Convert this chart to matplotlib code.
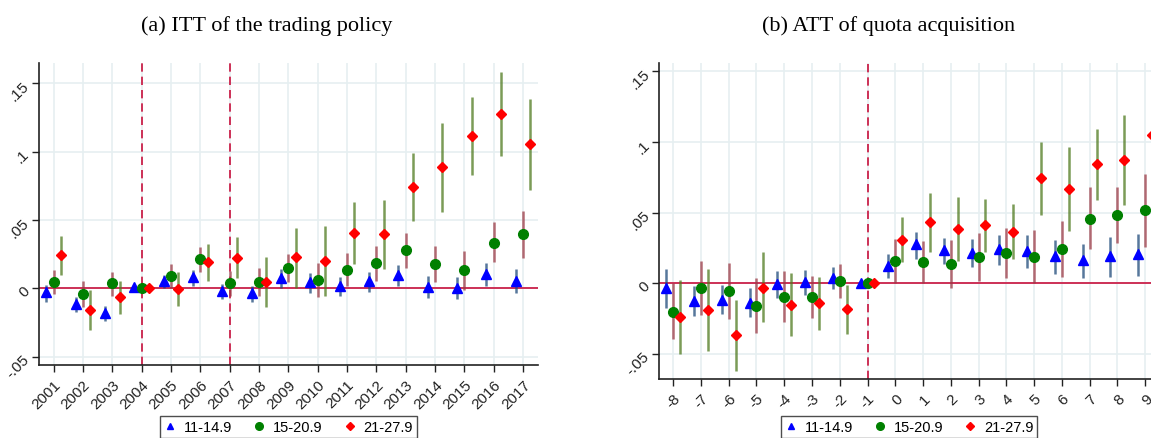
import matplotlib
matplotlib.use("Agg")
import matplotlib.pyplot as plt
from matplotlib.lines import Line2D
import numpy as np

# ---- data: panel (a), ITT by year ----
years = np.arange(2001, 2018)
a_tri = [-0.003, -0.0115, -0.018, 0.0008, 0.0056, 0.008, -0.002, -0.0037, 0.0075, 0.0044,
         0.0019, 0.0056, 0.010, 0.0012, 0.0005, 0.0102, 0.0053]
a_tri_lo = [-0.0098, -0.0171, -0.0237, 0.0008, 0.0, 0.0019, -0.0078, -0.0102, 0.0, -0.0034,
            -0.0058, -0.0025, 0.0015, -0.0073, -0.0078, 0.0015, -0.0037]
a_tri_hi = [0.0024, -0.0061, -0.0132, 0.0008, 0.0097, 0.0134, 0.0031, 0.0019, 0.0141, 0.011,
            0.008, 0.0121, 0.017, 0.0088, 0.008, 0.0185, 0.0141]
a_cir = [0.0048, -0.0044, 0.0037, 0.0, 0.0092, 0.0214, 0.0037, 0.0044, 0.0148, 0.0058,
         0.0136, 0.0183, 0.0278, 0.018, 0.0136, 0.0329, 0.0397]
a_cir_lo = [-0.0042, -0.0139, -0.0054, 0.0, 0.0, 0.0121, -0.0054, -0.0054, 0.0044, -0.0066,
            0.0015, 0.0056, 0.0148, 0.0044, -0.001, 0.019, 0.0221]
a_cir_hi = [0.0136, 0.0051, 0.0121, 0.0, 0.0178, 0.030, 0.0129, 0.0146, 0.025, 0.0183,
            0.0258, 0.0311, 0.0404, 0.0311, 0.0275, 0.0485, 0.0565]
a_dia = [0.0243, -0.0159, -0.0066, 0.0, -0.0005, 0.019, 0.0224, 0.0048, 0.0227, 0.0202,
         0.0404, 0.0395, 0.0741, 0.0884, 0.1116, 0.1274, 0.1053]
a_dia_lo = [0.0099, -0.0305, -0.0188, 0.0, -0.0127, 0.0056, 0.0073, -0.0139, 0.0, -0.0058,
            0.0178, 0.0141, 0.0492, 0.056, 0.0826, 0.0967, 0.0721]
a_dia_hi = [0.0385, -0.0012, 0.0056, 0.0, 0.0117, 0.0324, 0.0373, 0.0227, 0.044, 0.0458,
            0.0629, 0.0646, 0.099, 0.1208, 0.140, 0.1579, 0.1384]

# ---- data: panel (b), ATT by event time ----
rel = np.arange(-8, 10)
b_tri = [-0.0035, -0.0125, -0.0116, -0.0137, -0.0005, 0.0007, 0.004, 0.0002, 0.0121, 0.0274,
         0.0234, 0.0215, 0.0239, 0.0227, 0.0191, 0.0161, 0.0191, 0.0206]
b_tri_lo = [-0.0177, -0.0236, -0.022, -0.0243, -0.0102, -0.0087, -0.004, 0.0002, 0.0035, 0.0173,
            0.0137, 0.0113, 0.013, 0.0106, 0.0066, 0.0038, 0.0047, 0.0054]
b_tri_hi = [0.0102, -0.0021, -0.0012, -0.0035, 0.0083, 0.0095, 0.0118, 0.0002, 0.0208, 0.0362,
            0.0322, 0.0314, 0.0343, 0.0343, 0.0307, 0.0279, 0.0326, 0.035]
b_cir = [-0.0201, -0.0033, -0.0057, -0.0161, -0.0097, -0.0099, 0.0012, 0.0, 0.0158, 0.0149,
         0.0137, 0.0184, 0.0215, 0.0187, 0.0239, 0.0458, 0.0484, 0.0515]
b_cir_lo = [-0.0395, -0.0225, -0.0253, -0.0355, -0.0272, -0.0248, -0.0106, 0.0, 0.0, 0.0,
            -0.0035, 0.0014, 0.0038, 0.0, 0.0043, 0.0239, 0.0284, 0.0255]
b_cir_hi = [0.0, 0.0158, 0.0142, 0.0035, 0.0083, 0.0054, 0.0137, 0.0, 0.031, 0.0296,
            0.0307, 0.0355, 0.039, 0.0378, 0.0437, 0.0681, 0.0681, 0.0775]
b_dia = [-0.0239, -0.0189, -0.0366, -0.0031, -0.0154, -0.0142, -0.0184, 0.0, 0.0308, 0.0433,
         0.0383, 0.0409, 0.0364, 0.0742, 0.0667, 0.0841, 0.0874, 0.1052]
b_dia_lo = [-0.0501, -0.0478, -0.0619, -0.0277, -0.0376, -0.0331, -0.0359, 0.0, 0.0149, 0.022,
            0.0156, 0.022, 0.0168, 0.0484, 0.0369, 0.0589, 0.0555, 0.075]
b_dia_hi = [0.0019, 0.0097, -0.0116, 0.022, 0.0071, 0.0043, -0.0012, 0.0, 0.0468, 0.064,
            0.061, 0.0598, 0.0562, 0.100, 0.0965, 0.1094, 0.1191, 0.135]

labels = ["11-14.9", "15-20.9", "21-27.9"]
yticks = [-0.05, 0, 0.05, 0.1, 0.15]
yticklabels = ["-.05", "0", ".05", ".1", ".15"]

plt.rcParams['font.family'] = ['Liberation Sans', 'DejaVu Sans']

fig = plt.figure(figsize=(11.51, 4.39), dpi=100)
W, H = 1151, 439
ax1 = fig.add_axes([39 / W, 1 - 366 / H, 498.7 / W, 302 / H])
ax2 = fig.add_axes([659.3 / W, 1 - 380 / H, 499.7 / W, 316 / H])

grid_c = '#e6eff1'
line_c = '#c8103c'


def draw(ax, x, series, vlines):
    ax.set_axisbelow(True)
    for xv in x:
        ax.axvline(xv, color=grid_c, lw=1.2, zorder=0)
    for yv in yticks:
        ax.axhline(yv, color=grid_c, lw=1.2, zorder=0)
    ax.axhline(0, color=line_c, lw=1.2, zorder=1)
    for v in vlines:
        ax.axvline(v, color=line_c, lw=1.2, ls=(0, (5, 3)), zorder=1)
    specs = [(-0.25, '^', 'blue', '#1f4a7a', 6.5),
             (0.0, 'o', 'green', '#9b3a45', 7),
             (0.25, 'D', 'red', '#4f7a1f', 5)]
    for (off, m, c, cic, ms), (est, lo, hi) in zip(specs, series):
        xs = np.asarray(x) + off
        ax.vlines(xs, lo, hi, color=cic, lw=1.8, alpha=0.75, zorder=2)
        ax.plot(xs, est, ls='none', marker=m, color=c, ms=ms, mec=c, zorder=3)
    ax.set_xticks(x)
    ax.set_yticks(yticks)
    ax.set_yticklabels(yticklabels, rotation=45, va='center', ha='right',
                       rotation_mode='anchor')
    for sp in ['top', 'right']:
        ax.spines[sp].set_visible(False)
    for sp in ['left', 'bottom']:
        ax.spines[sp].set_color('#222222')
        ax.spines[sp].set_linewidth(1.2)
    ax.tick_params(labelsize=11, length=5, width=1, colors='#222222')


draw(ax1, years,
     [(a_tri, a_tri_lo, a_tri_hi), (a_cir, a_cir_lo, a_cir_hi), (a_dia, a_dia_lo, a_dia_hi)],
     [2004, 2007])
ax1.set_xlim(2000.5, 2017.5)
ax1.set_ylim(-0.056, 0.1647)
ax1.set_xticklabels([str(y) for y in years], rotation=45, ha='right', rotation_mode='anchor')

draw(ax2, rel,
     [(b_tri, b_tri_lo, b_tri_hi), (b_cir, b_cir_lo, b_cir_hi), (b_dia, b_dia_lo, b_dia_hi)],
     [-1])
ax2.set_xlim(-8.5, 9.5)
ax2.set_ylim(-0.0679, 0.156)
ax2.set_xticklabels([str(r) for r in rel], rotation=45, ha='right', rotation_mode='anchor')

fig.text(266.5 / W, 1 - 26 / H, "(a) ITT of the trading policy", ha='center', va='center',
         fontsize=16, family='Liberation Serif')
fig.text(889 / W, 1 - 26 / H, "(b) ATT of quota acquisition", ha='center', va='center',
         fontsize=16, family='Liberation Serif')

handles = [Line2D([], [], ls='none', marker='^', color='blue', ms=5),
           Line2D([], [], ls='none', marker='o', color='green', ms=5.5),
           Line2D([], [], ls='none', marker='D', color='red', ms=4)]
for cx in (288.3, 909):
    leg = fig.legend(handles, labels, loc='upper center', bbox_to_anchor=(cx / W, 1 - 417.3 / H),
                     ncol=3, fontsize=10.5, frameon=True, fancybox=False, handlelength=0.9,
                     handletextpad=0.5, columnspacing=1.4, borderpad=0.25, borderaxespad=0)
    leg.get_frame().set_edgecolor('#222222')
    leg.get_frame().set_linewidth(1.0)

fig.savefig("out.png", dpi=100)
